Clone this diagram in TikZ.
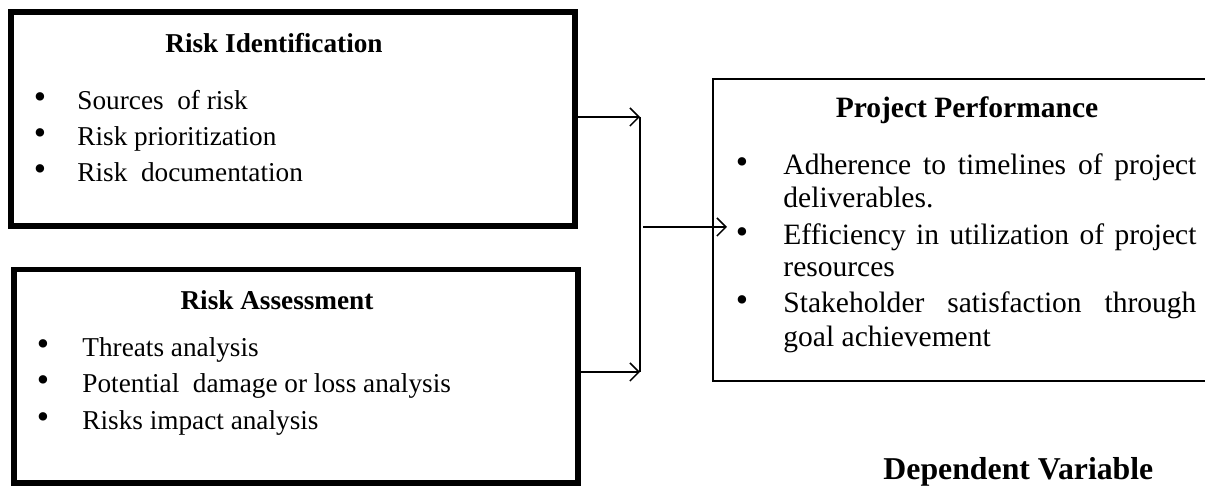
\documentclass[tikz,border=0pt]{standalone}
\usepackage{fontspec}
\setmainfont{Liberation Serif}
\usetikzlibrary{arrows.meta}
\begin{document}
\begin{tikzpicture}[x=0.4405pt,y=-0.4405pt,
  thickbox/.style={draw, line width=2.6pt, inner sep=0pt},
  thinbox/.style={draw, line width=1.2pt, inner sep=0pt},
  ttl/.style={anchor=base, inner sep=0pt, font=\fontsize{12}{16}\selectfont\bfseries},
  ttlb/.style={anchor=base, inner sep=0pt, font=\fontsize{13}{16}\selectfont\bfseries},
  itm/.style={anchor=base west, inner sep=0pt, font=\fontsize{12}{16}\selectfont},
  itmb/.style={anchor=base west, inner sep=0pt, font=\fontsize{13}{16}\selectfont},
  bul/.style={anchor=base, inner sep=0pt, font=\fontsize{15.5}{15.5}\selectfont},
  arr/.style={line width=0.65pt, -{Straight Barb[length=4pt,width=8pt,line width=0.65pt]}},
  ln/.style={line width=0.8pt}]
\useasboundingbox (0,0) rectangle (1205,487);
% boxes
\node[thickbox, minimum width=248.4pt, minimum height=94.3pt] (ri) at (293,119) {};
\node[thickbox, minimum width=248.4pt, minimum height=94.0pt] (ra) at (296,376.25) {};
\node[thinbox, minimum width=221.1pt, minimum height=133.0pt] (pp) at (964,230) {};
% Risk Identification
\node[ttl] (t1) at (274,53) {Risk Identification};
\node[bul] (b11) at (40,109) {•};
\node[itm] (i11) at (77,110) {Sources\ \ of risk};
\node[bul] (b12) at (40,145) {•};
\node[itm] (i12) at (77,146) {Risk prioritization};
\node[bul] (b13) at (40,181) {•};
\node[itm] (i13) at (77,182) {Risk\ \ documentation};
% Risk Assessment
\node[ttl] (t2) at (277,310) {Risk Assessment};
\node[bul] (b21) at (43,356) {•};
\node[itm] (i21) at (82,357) {Threats analysis};
\node[bul] (b22) at (43,392) {•};
\node[itm] (i22) at (82,393) {Potential\ \ damage or loss analysis};
\node[bul] (b23) at (43,429) {•};
\node[itm] (i23) at (82,430) {Risks impact analysis};
% Project Performance
\node[ttlb] (t3) at (967,118) {Project Performance};
\node[bul] (b31) at (742,174) {•};
\node[itmb] (i31) at (783,175) {\makebox[181.9pt][s]{Adherence to timelines of project}};
\node[itmb] (i32) at (783,208) {deliverables.};
\node[bul] (b32) at (742,244) {•};
\node[itmb] (i33) at (783,245) {\makebox[181.9pt][s]{Efficiency in utilization of project}};
\node[itmb] (i34) at (783,277) {resources};
\node[bul] (b33) at (742,312) {•};
\node[itmb] (i35) at (783,313) {\makebox[181.9pt][s]{Stakeholder satisfaction through}};
\node[itmb] (i36) at (783,347) {goal achievement};
% label
\node[anchor=base west, inner sep=0pt, font=\fontsize{14}{16}\selectfont\bfseries] (dv) at (883,480) {Dependent Variable};
% connectors
\coordinate (j1) at (640,117);
\coordinate (j2) at (640,372);
\coordinate (m0) at (643,227);
\coordinate (tip) at (727,227);
\draw[arr] (ri.east |- j1) -- (j1);
\draw[arr] (ra.east |- j2) -- (j2);
\draw[ln] (j1) -- (j2);
\draw[arr] (m0) -- (tip);
\end{tikzpicture}
\end{document}
